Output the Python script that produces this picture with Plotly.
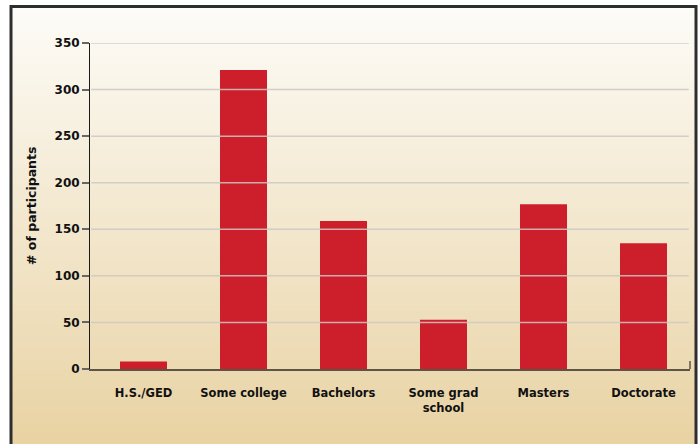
import plotly.graph_objects as go

# Education level of study participants
categories = ["H.S./GED", "Some college", "Bachelors", "Some grad<br>school", "Masters", "Doctorate"]
participants = [8, 321, 159, 53, 177, 135]
y_ticks = [0, 50, 100, 150, 200, 250, 300, 350]

W, H = 698, 444
BAR_COLOR = "#cd1f2b"
AXIS_COLOR = "#5e5445"
GRID_COLOR = "rgba(205,200,195,0.85)"
FONT = "DejaVu Sans"

# plot area margins in pixels
M_L, M_R, M_T, M_B = 90, 8, 43, 75
PW, PH = W - M_L - M_R, H - M_T - M_B


def px_x(px):
    """Pixel column -> paper x."""
    return (px - M_L) / PW


def px_y(py):
    """Pixel row (from top) -> paper y."""
    return (H - M_B - py) / PH


fig = go.Figure(
    go.Bar(
        x=categories,
        y=participants,
        marker=dict(color=BAR_COLOR, line=dict(width=0)),
        width=0.47,
        hoverinfo="x+y",
    )
)

shapes = []

# warm vertical gradient panel behind the chart
top_rgb = (253, 252, 248)
bot_rgb = (232, 210, 162)
n_strips = 90
frame_l, frame_r = px_x(11), px_x(696)
frame_t, frame_b = px_y(6.5), px_y(448)
for i in range(n_strips):
    f0 = i / n_strips
    f1 = (i + 1) / n_strips
    fm = (f0 + f1) / 2
    c = tuple(round(top_rgb[k] + (bot_rgb[k] - top_rgb[k]) * fm) for k in range(3))
    y1 = frame_t - (frame_t - frame_b) * f0
    y0 = frame_t - (frame_t - frame_b) * f1 - 0.003
    shapes.append(dict(type="rect", xref="paper", yref="paper",
                       x0=frame_l, x1=frame_r, y0=y0, y1=y1,
                       fillcolor="rgb(%d,%d,%d)" % c, line=dict(width=0), layer="below"))

# dark frame around the panel
shapes.append(dict(type="rect", xref="paper", yref="paper",
                   x0=frame_l, x1=frame_r, y0=frame_b, y1=frame_t,
                   line=dict(color="#2e2e2e", width=3), fillcolor="rgba(0,0,0,0)", layer="below"))

# horizontal gridlines, drawn over the bars
for t in y_ticks[1:]:
    shapes.append(dict(type="line", xref="x domain", yref="y",
                       x0=0.002, x1=0.998, y0=t, y1=t,
                       line=dict(color=GRID_COLOR, width=1.5), layer="above"))

# short upright tick closing the category axis on the right
shapes.append(dict(type="line", xref="x domain", yref="y domain",
                   x0=1, x1=1, y0=0, y1=8 / PH,
                   line=dict(color=AXIS_COLOR, width=1.5), layer="above"))

fig.update_layout(
    width=W,
    height=H,
    autosize=False,
    margin=dict(l=M_L, r=M_R, t=M_T, b=M_B, pad=0, autoexpand=False),
    paper_bgcolor="white",
    plot_bgcolor="rgba(0,0,0,0)",
    showlegend=False,
    shapes=shapes,
    annotations=[dict(
        text="<b># of participants</b>", textangle=-90,
        xref="paper", yref="paper", x=px_x(31), y=0.5,
        showarrow=False, xanchor="center", yanchor="middle",
        font=dict(family=FONT, size=12.5, color="#111111"),
    )],
    xaxis=dict(
        type="category",
        range=[-0.535, 5.465],
        tickvals=categories,
        ticktext=["<b>%s</b>" % c for c in categories],
        automargin=False,
        showgrid=False,
        zeroline=False,
        showline=True,
        linecolor=AXIS_COLOR,
        linewidth=2,
        ticks="",
        ticklabelstandoff=12,
        tickfont=dict(family=FONT, size=11.5, color="#111111"),
        fixedrange=True,
    ),
    yaxis=dict(
        range=[0, 350],
        tickvals=y_ticks,
        ticktext=["<b>%d</b>" % t for t in y_ticks],
        automargin=False,
        showgrid=False,
        zeroline=False,
        showline=True,
        linecolor="#1a1a1a",
        linewidth=1,
        ticks="outside",
        ticklen=7,
        tickwidth=1.5,
        tickcolor="#666666",
        tickfont=dict(family=FONT, size=12, color="#111111"),
        fixedrange=True,
    ),
)

fig.write_html("out.html")
